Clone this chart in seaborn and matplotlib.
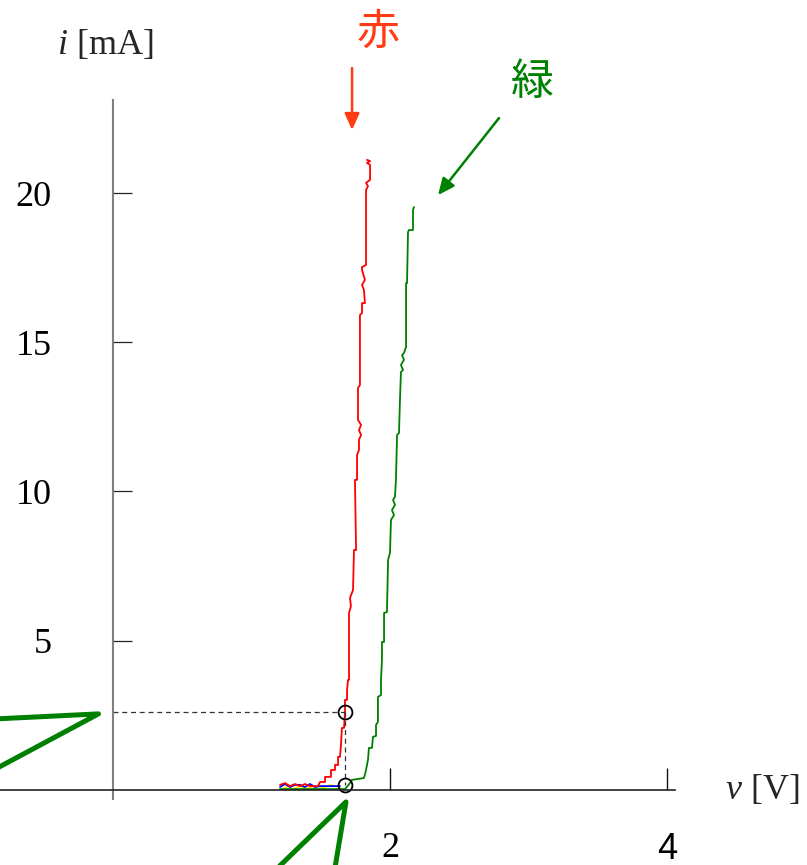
import numpy as np
import matplotlib
matplotlib.use('Agg')
import matplotlib.pyplot as plt
import seaborn as sns

sns.set_style("white")
plt.rcParams['font.family'] = ['Liberation Serif', 'Noto Sans CJK JP', 'DejaVu Sans']
plt.rcParams['mathtext.fontset'] = 'custom'
plt.rcParams['mathtext.it'] = 'Liberation Serif:italic'
plt.rcParams['mathtext.rm'] = 'Liberation Serif'

# 赤 LED の v-i 特性 (V, mA)
red_v = [1.206, 1.242, 1.278, 1.314, 1.350, 1.386, 1.422, 1.480, 1.495, 1.531, 1.531,
         1.574, 1.574, 1.603, 1.603, 1.625, 1.625, 1.639, 1.646, 1.653, 1.668, 1.675,
         1.675, 1.690, 1.690, 1.697, 1.704, 1.704, 1.718, 1.711, 1.733, 1.740, 1.755,
         1.747, 1.762, 1.762, 1.776, 1.776, 1.791, 1.776, 1.791, 1.769, 1.769, 1.783,
         1.783, 1.798, 1.798, 1.819, 1.812, 1.798, 1.819, 1.798, 1.798, 1.827, 1.827,
         1.841, 1.827, 1.856, 1.856, 1.834, 1.856, 1.834]
red_i = [0.17, 0.23, 0.13, 0.20, 0.13, 0.20, 0.13, 0.13, 0.27, 0.27, 0.44,
         0.44, 0.67, 0.67, 0.84, 0.84, 1.11, 1.11, 1.51, 2.08, 2.08, 2.61,
         3.02, 3.02, 3.35, 3.69, 3.69, 5.93, 6.16, 6.43, 6.70, 8.04, 8.04,
         10.39, 10.39, 11.22, 11.39, 11.73, 11.89, 12.06, 12.23, 12.40, 13.47, 13.57,
         15.91, 15.98, 16.31, 16.31, 16.75, 16.92, 17.09, 17.42, 17.52, 17.59, 20.10,
         20.23, 20.34, 20.44, 20.94, 21.01, 21.07, 21.11]

# 緑 LED
green_v = [1.206, 1.675, 1.711, 1.726, 1.769, 1.812, 1.827, 1.841, 1.848, 1.870, 1.877,
           1.899, 1.899, 1.913, 1.913, 1.935, 1.935, 1.942, 1.942, 1.957, 1.957, 1.978,
           1.986, 2.000, 2.007, 2.029, 2.014, 2.036, 2.022, 2.036, 2.043, 2.051, 2.065,
           2.072, 2.079, 2.094, 2.079, 2.101, 2.087, 2.101, 2.116, 2.116, 2.123, 2.130,
           2.137, 2.166, 2.166, 2.173]
green_i = [0.03, 0.03, 0.23, 0.34, 0.37, 0.40, 0.67, 1.01, 1.41, 1.41, 1.78,
           1.81, 2.18, 2.28, 3.12, 3.18, 3.69, 4.36, 4.96, 4.96, 5.93, 5.96,
           7.71, 7.94, 9.05, 9.21, 9.38, 9.55, 9.72, 9.82, 10.39, 11.89, 11.96,
           13.07, 14.00, 14.07, 14.24, 14.41, 14.57, 14.64, 14.84, 16.98, 16.98, 18.69,
           18.76, 18.76, 19.43, 19.53]

# 青・黄 (ほぼ 0 mA)
blue_v = [1.206, 1.242, 1.278, 1.314, 1.350, 1.386, 1.422, 1.458, 1.495, 1.639]
blue_i = [0.10, 0.20, 0.10, 0.17, 0.17, 0.10, 0.20, 0.10, 0.13, 0.13]
yellow_v = [1.220, 1.264, 1.300, 1.350, 1.400, 1.437, 1.480, 1.531, 1.567, 1.603, 1.639]
yellow_i = [0.03, 0.13, 0.03, 0.13, 0.03, 0.13, 0.03, 0.10, 0.17, 0.13, 0.10]

# 動作点
op_v = 1.675
op_i = [2.61, 0.17]

y_ticks = [5, 10, 15, 20]
x_ticks = [2, 4]

fig = plt.figure(figsize=(8.07, 8.65), dpi=100)
ax = fig.add_axes([0, 0, 1, 1])
ax.set_xlim(-0.816, 5.011)
ax.set_ylim(-2.513, 26.466)

# axes
ax.spines[['top', 'right']].set_visible(False)
ax.spines['left'].set_position(('data', 0))
ax.spines['left'].set_bounds(-0.3, 23.12)
ax.spines['left'].set_color('#808080')
ax.spines['left'].set_linewidth(1.5)
ax.spines['bottom'].set_position(('data', 0))
ax.spines['bottom'].set_bounds(-0.816, 4.058)
ax.spines['bottom'].set_color('#222222')
ax.spines['bottom'].set_linewidth(1.2)

ax.set_yticks(y_ticks)
ax.set_yticklabels([str(t) for t in y_ticks])
ax.tick_params(axis='y', left=True, direction='in', length=14, width=0.9, color='#222222',
               pad=44, labelsize=26, labelcolor='black')
ax.set_xticks(x_ticks)
ax.set_xticklabels([str(t) for t in x_ticks])
ax.tick_params(axis='x', bottom=True, direction='in', length=16, width=1.0, color='#111111',
               pad=30, labelsize=26, labelcolor='black')
ax.get_xticklabels()[1].set_fontfamily('Liberation Sans')

# curves
sns.lineplot(x=yellow_v, y=yellow_i, sort=False, estimator=None, color='#ffee00', lw=1.3, ax=ax)
sns.lineplot(x=blue_v, y=blue_i, sort=False, estimator=None, color='#0000ff', lw=1.3, ax=ax)
sns.lineplot(x=green_v, y=green_i, sort=False, estimator=None, color='#008000', lw=1.3, ax=ax)
sns.lineplot(x=red_v, y=red_i, sort=False, estimator=None, color='#ff0000', lw=1.3, ax=ax)

# operating point guides
ax.plot([0, op_v], [op_i[0], op_i[0]], ls='--', color='#333333', lw=0.9, dashes=(4, 3))
ax.plot([op_v, op_v], op_i, ls='--', color='#333333', lw=0.9, dashes=(4, 3))
ax.plot([op_v, op_v], op_i, 'o', ms=10, mfc='none', mec='black', mew=1.3)

# callout lines (green)
ax.plot([-0.85, -0.105, -0.85], [2.38, 2.55, 0.70], color='#008000', lw=3.6,
        solid_capstyle='round', solid_joinstyle='round', clip_on=False)
ax.plot([1.191, 1.682, 1.603], [-2.6, -0.40, -2.6], color='#008000', lw=3.6,
        solid_capstyle='round', solid_joinstyle='round', clip_on=False)

# arrows and labels
ax.annotate('', xy=(1.726, 22.11), xytext=(1.726, 24.19),
            arrowprops=dict(arrowstyle='-|>,head_length=1.0,head_width=0.45',
                            color='#ff3c14', lw=1.8, shrinkA=0, shrinkB=0))
ax.annotate('', xy=(2.347, 19.93), xytext=(2.787, 22.51),
            arrowprops=dict(arrowstyle='-|>,head_length=1.0,head_width=0.45',
                            color='#008000', lw=1.8, shrinkA=0, shrinkB=0))
ax.text(1.913, 25.36, '赤', color='#ff3c14', fontsize=31, family='Noto Sans CJK JP',
        ha='center', va='center')
ax.text(3.025, 23.69, '緑', color='#008000', fontsize=31, family='Noto Sans CJK JP',
        ha='center', va='center')

ax.text(-0.058, 24.96, r'$i$ [mA]', fontsize=26, ha='center', va='center')
ax.text(4.686, 0.0, r'$v$ [V]', fontsize=26, ha='center', va='center')

fig.savefig('out.png', dpi=100)
